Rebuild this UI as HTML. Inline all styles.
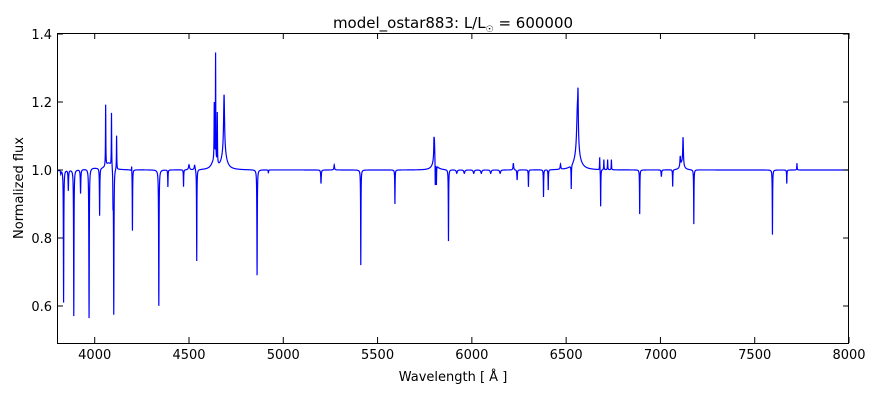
<!DOCTYPE html>
<html><head><meta charset="utf-8"><style>
body{margin:0;background:#fff;}
svg{display:block;font-family:"DejaVu Sans","Liberation Sans",sans-serif;}
</style></head><body>
<svg id="s" width="880" height="400" xmlns="http://www.w3.org/2000/svg">
<rect width="880" height="400" fill="#fff"/>
<defs><clipPath id="c"><rect x="57" y="33" width="792" height="310"/></clipPath></defs>
<path id="p" clip-path="url(#c)" fill="none" stroke="#0000ff" stroke-width="1.2"/>
<rect x="57.5" y="33.5" width="791" height="310" fill="none" stroke="#000" stroke-width="1"/>
<g id="t" stroke="#000" stroke-width="1"></g>
<g id="l" font-size="13" fill="#000"></g>
<text x="453" y="28" font-size="15" text-anchor="middle">model_ostar883: L/L<tspan font-size="9" dy="4">☉</tspan><tspan dy="-4"> = 600000</tspan></text>
<text x="453" y="381" font-size="13" text-anchor="middle">Wavelength [ Å ]</text>
<text transform="translate(23,188) rotate(-90)" font-size="13" text-anchor="middle">Normalized flux</text>
</svg>
<script>
var X=function(l){return 57+(l-3800)*792/4200;},Y=function(f){return 170-(f-1)*340;};
var F=[[3820,-0.01,1.5],[3835,-0.39,1.2],[3860,-0.06,1.5],[3889,-0.43,1.2],[3925,-0.07,1.5],[3970,-0.44,1.3],[4026,-0.14,1.2],[4101,-0.43,1.3],[4097,-0.09,1],[4200,-0.18,1],[4340,-0.40,1.3],[4388,-0.05,1],[4471,-0.05,1],[4541,-0.27,1],[4861,-0.31,1.2],[4921,-0.01,1],[5200,-0.04,1.5],[5411,-0.28,1],[5592,-0.10,1],[5806,-0.08,1],[5812,-0.06,1],[5876,-0.21,1],[5920,-0.01,3],[5960,-0.01,3],[6010,-0.01,3],[6050,-0.01,3],[6100,-0.01,3],[6150,-0.01,3],[6240,-0.03,1.5],[6300,-0.05,1],[6380,-0.08,1],[6405,-0.06,1],[6527,-0.07,1],[6683,-0.11,1],[6890,-0.13,1],[7005,-0.02,1.5],[7065,-0.05,1],[7177,-0.16,1],[7594,-0.19,1],[7670,-0.04,1],[3800,-0.01,2],
[4058,0.18,1],[4089,0.16,1],[4116,0.10,1],[4196,0.02,1],[4634,0.17,1.2],[4641,0.32,1],[4650,0.15,1],[4686,0.17,3],[4686,0.05,15],[4630,0.02,15],[4500,0.015,3],[4530,0.015,3],[5270,0.015,2],[5801,0.07,3],[5799,0.03,1],[5801,0.02,15],[6220,0.02,2],[6470,0.015,2],[6560,0.14,5],[6563,0.1,1.5],[6560,0.04,20],[6678,0.04,1],[6700,0.03,1],[6720,0.03,1],[6740,0.03,1],[7105,0.03,2],[7120,0.08,2],[7115,0.02,10],[7724,0.02,1],[4075,0.02,20],[3990,0.005,40]];
var d="";for(var l=3800;l<=8000;l+=0.5){var f=1;for(var i=0;i<F.length;i++){var q=(l-F[i][0])/F[i][2];f+=F[i][1]/(1+q*q);}d+=(d?"L":"M")+X(l).toFixed(2)+" "+Y(f).toFixed(2);}
document.getElementById("p").setAttribute("d",d);
var t="",lb="";
for(var v=4000;v<=8000;v+=500){var x=X(v);t+='<line x1="'+x+'" y1="343" x2="'+x+'" y2="337"/><line x1="'+x+'" y1="33" x2="'+x+'" y2="39"/>';lb+='<text x="'+x+'" y="359" text-anchor="middle">'+v+'</text>';}
for(var k=0;k<5;k++){var v=0.6+k*0.2,y=Y(v);t+='<line x1="57" y1="'+y+'" x2="63" y2="'+y+'"/><line x1="849" y1="'+y+'" x2="843" y2="'+y+'"/>';lb+='<text x="52" y="'+(y+5)+'" text-anchor="end">'+v.toFixed(1)+'</text>';}
document.getElementById("t").innerHTML=t;document.getElementById("l").innerHTML=lb;
</script>
</body></html>
